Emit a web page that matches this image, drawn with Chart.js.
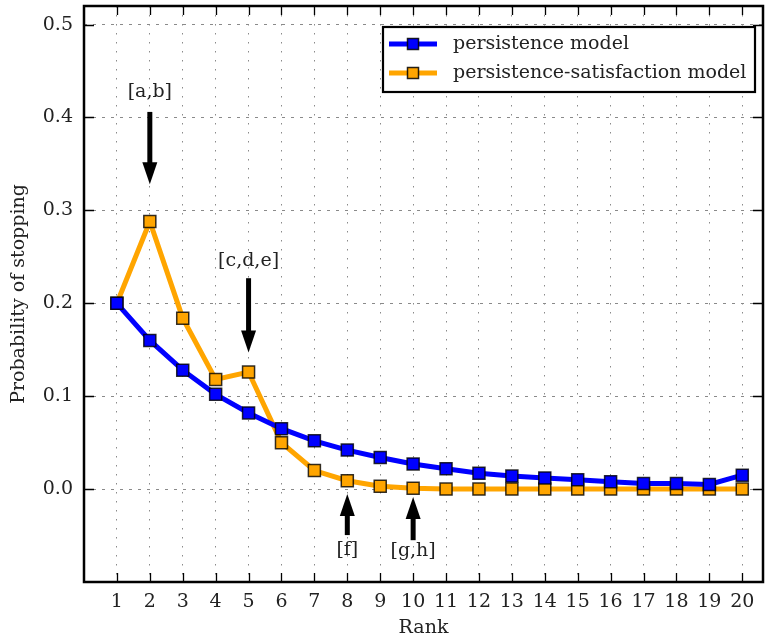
<!DOCTYPE html>
<html>
<head>
<meta charset="utf-8">
<script src="https://cdn.jsdelivr.net/npm/chart.js@4"></script>
<style>
  html, body { margin: 0; padding: 0; background: #fff; }
  #wrap { width: 766px; height: 639px; }
</style>
</head>
<body>
<div id="wrap"><canvas id="stopChart" width="766" height="639"></canvas></div>
<script>
// Data
const ranks = [1, 2, 3, 4, 5, 6, 7, 8, 9, 10, 11, 12, 13, 14, 15, 16, 17, 18, 19, 20];
const persistence = [0.200, 0.160, 0.128, 0.102, 0.082, 0.065, 0.052, 0.042, 0.034, 0.027,
                     0.022, 0.017, 0.014, 0.012, 0.010, 0.008, 0.006, 0.006, 0.005, 0.015];
const persistenceSatisfaction = [0.200, 0.288, 0.184, 0.118, 0.126, 0.050, 0.020, 0.009, 0.003, 0.001,
                                 0.000, 0.000, 0.000, 0.000, 0.000, 0.000, 0.000, 0.000, 0.000, 0.000];
const yTicks = [0.0, 0.1, 0.2, 0.3, 0.4, 0.5];

// Annotations: label, rank, arrow tail, arrow tip, label position
const noteLabels = ['[a,b]', '[c,d,e]', '[f]', '[g,h]'];
const noteRank = [2, 5, 8, 10];
const noteTail = [0.406, 0.227, -0.0495, -0.055];
const noteTip = [0.328, 0.147, -0.0054, -0.0086];
const noteTextY = [0.427, 0.245, -0.066, -0.067];

const FONT = "'DejaVu Serif', serif";
const FSIZE = 19;
const BLUE = '#0000ff';
const ORANGE = '#ffa500';

function toPoints(values) {
    return ranks.map((r, i) => ({ x: r, y: values[i] }));
}

function noEdgePadding(scale) {
    scale.paddingTop = 0;
    scale.paddingBottom = 0;
    scale.paddingLeft = 0;
    scale.paddingRight = 0;
}

const framePlugin = {
    id: 'frame',
    afterDraw(chart) {
        const ctx = chart.ctx;
        const area = chart.chartArea;
        const xs = chart.scales.x;
        const ys = chart.scales.y;

        ctx.save();
        // inward tick marks on all four sides
        ctx.strokeStyle = '#000';
        ctx.lineWidth = 1.3;
        ctx.beginPath();
        ranks.forEach(r => {
            const px = Math.round(xs.getPixelForValue(r)) + 0.5;
            ctx.moveTo(px, area.top); ctx.lineTo(px, area.top + 9);
            ctx.moveTo(px, area.bottom); ctx.lineTo(px, area.bottom - 9);
        });
        yTicks.forEach(v => {
            const py = Math.round(ys.getPixelForValue(v)) + 0.5;
            ctx.moveTo(area.left, py); ctx.lineTo(area.left + 10, py);
            ctx.moveTo(area.right, py); ctx.lineTo(area.right - 10, py);
        });
        ctx.stroke();

        // outer box
        ctx.lineWidth = 2.5;
        ctx.strokeRect(area.left, area.top, area.right - area.left, area.bottom - area.top);

        // arrows and their labels
        ctx.fillStyle = '#000';
        ctx.font = FSIZE + 'px ' + FONT;
        ctx.textAlign = 'center';
        ctx.textBaseline = 'middle';
        noteLabels.forEach((label, i) => {
            const px = xs.getPixelForValue(noteRank[i]);
            const yTail = ys.getPixelForValue(noteTail[i]);
            const yTip = ys.getPixelForValue(noteTip[i]);
            const dir = yTip > yTail ? 1 : -1;
            const headLen = 22;
            const headHalf = 7.5;
            ctx.lineWidth = 5;
            ctx.beginPath();
            ctx.moveTo(px, yTail);
            ctx.lineTo(px, yTip - dir * (headLen - 2));
            ctx.stroke();
            ctx.beginPath();
            ctx.moveTo(px, yTip);
            ctx.lineTo(px - headHalf, yTip - dir * headLen);
            ctx.lineTo(px + headHalf, yTip - dir * headLen);
            ctx.closePath();
            ctx.fill();
            ctx.fillStyle = '#222';
            ctx.fillText(label, px, ys.getPixelForValue(noteTextY[i]));
            ctx.fillStyle = '#000';
        });

        // legend box inside the plot
        const lx = 383, ly = 27, lw = 372, lh = 65;
        ctx.fillStyle = '#fff';
        ctx.fillRect(lx, ly, lw, lh);
        ctx.lineWidth = 2.2;
        ctx.strokeStyle = '#000';
        ctx.strokeRect(lx, ly, lw, lh);
        chart.data.datasets.forEach((ds, i) => {
            const cy = ly + 17 + i * 29;
            ctx.strokeStyle = ds.borderColor;
            ctx.lineWidth = 5;
            ctx.beginPath();
            ctx.moveTo(lx + 6, cy);
            ctx.lineTo(lx + 54, cy);
            ctx.stroke();
            ctx.fillStyle = ds.pointBackgroundColor;
            ctx.strokeStyle = 'rgba(0,0,0,0.85)';
            ctx.lineWidth = 1.5;
            ctx.fillRect(lx + 24.5, cy - 5.5, 11, 11);
            ctx.strokeRect(lx + 24.5, cy - 5.5, 11, 11);
            ctx.fillStyle = '#222';
            ctx.font = FSIZE + 'px ' + FONT;
            ctx.textAlign = 'left';
            ctx.fillText(ds.label, lx + 70, cy);
        });
        ctx.restore();
    }
};

const chartCtx = document.getElementById('stopChart').getContext('2d');
const stopChart = new Chart(chartCtx, {
    type: 'line',
    data: {
        datasets: [
            {
                label: 'persistence model',
                data: toPoints(persistence),
                borderColor: BLUE,
                backgroundColor: BLUE,
                pointBackgroundColor: BLUE,
                pointBorderColor: 'rgba(0,0,0,0.8)',
                pointBorderWidth: 1.5,
                pointStyle: 'rect',
                pointRadius: 8.5,
                borderWidth: 5,
                tension: 0
            },
            {
                label: 'persistence-satisfaction model',
                data: toPoints(persistenceSatisfaction),
                borderColor: ORANGE,
                backgroundColor: ORANGE,
                pointBackgroundColor: ORANGE,
                pointBorderColor: 'rgba(0,0,0,0.8)',
                pointBorderWidth: 1.5,
                pointStyle: 'rect',
                pointRadius: 8.5,
                borderWidth: 5,
                tension: 0
            }
        ]
    },
    options: {
        responsive: false,
        animation: false,
        layout: {
            autoPadding: false,
            padding: { top: 6, right: 3, left: 0, bottom: 0 }
        },
        plugins: {
            legend: { display: false },
            tooltip: { enabled: false }
        },
        scales: {
            x: {
                type: 'linear',
                min: 0,
                max: 20.63,
                afterBuildTicks: function(scale) {
                    scale.ticks = ranks.map(v => ({ value: v }));
                },
                afterFit: function(scale) {
                    scale.height = 57;
                    noEdgePadding(scale);
                },
                grid: {
                    color: '#8a8a8a',
                    lineWidth: 1,
                    drawTicks: false
                },
                border: {
                    display: false,
                    dash: [1.5, 7.5]
                },
                ticks: {
                    color: '#222',
                    padding: 9,
                    maxRotation: 0,
                    autoSkip: false,
                    font: { family: FONT, size: FSIZE }
                },
                title: {
                    display: true,
                    text: 'Rank',
                    color: '#222',
                    padding: { top: 0, bottom: 0 },
                    font: { family: FONT, size: FSIZE }
                }
            },
            y: {
                min: -0.1,
                max: 0.52,
                afterBuildTicks: function(scale) {
                    scale.ticks = yTicks.map(v => ({ value: v }));
                },
                afterFit: function(scale) {
                    scale.width = 84;
                    noEdgePadding(scale);
                },
                grid: {
                    color: '#8a8a8a',
                    lineWidth: 1,
                    drawTicks: false
                },
                border: {
                    display: false,
                    dash: [3, 6]
                },
                ticks: {
                    color: '#222',
                    padding: 11,
                    font: { family: FONT, size: FSIZE },
                    callback: function(value) {
                        return value.toFixed(1);
                    }
                },
                title: {
                    display: true,
                    text: 'Probability of stopping',
                    color: '#222',
                    padding: { top: 8, bottom: 0 },
                    font: { family: FONT, size: FSIZE }
                }
            }
        }
    },
    plugins: [framePlugin]
});
</script>
</body>
</html>
